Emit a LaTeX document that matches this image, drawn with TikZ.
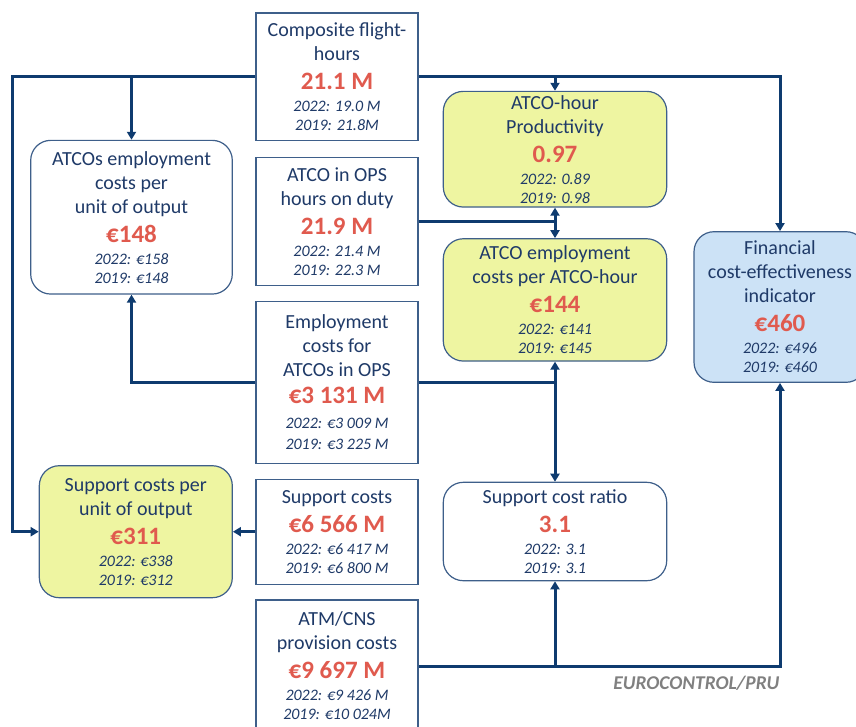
\documentclass[tikz,border=0pt]{standalone}
\usepackage{fontspec}
\setmainfont{Carlito}
\usetikzlibrary{arrows.meta}
\definecolor{pruline}{HTML}{0E3B6F}
\definecolor{prutext}{HTML}{1F3A68}
\definecolor{prured}{HTML}{E05A4E}
\definecolor{pruframe}{HTML}{3E5F8A}
\definecolor{pruyellow}{HTML}{EEF5A1}
\definecolor{prublue}{HTML}{CCE2F6}
\def\kpival#1{\\[5pt]{\fontsize{25}{28}\selectfont\bfseries\color{prured}#1}}
\def\kpiyears#1#2{\\[-2pt]{\fontsize{16}{19}\selectfont\itshape 2022: #1}\\[-5pt]{\fontsize{16}{19}\selectfont\itshape 2019: #2}}

\begin{document}
\begin{tikzpicture}[x=1pt,y=-1pt,
  box/.style={draw=pruframe,line width=1.2pt,fill=white,text=prutext,align=center,
    font=\fontsize{20}{24}\selectfont,inner sep=2pt},
  sqbox/.style={box,minimum width=162pt},
  rbox/.style={box,rounded corners=20pt},
  link/.style={draw=pruline,line width=3pt},
  arr/.style={link,-{Triangle[length=8pt,width=9pt]}}]
\useasboundingbox (0,0) rectangle (856,726);
\clip (0,0) rectangle (856,726);
\node[sqbox,minimum height=127.5pt] (comp) at (337,76.7) {Composite flight-\\hours\kpival{21.1 M}\kpiyears{19.0 M}{21.8M}};
\node[sqbox,minimum height=128pt] (duty) at (337,221.5) {ATCO in OPS\\hours on duty\kpival{21.9 M}\kpiyears{21.4 M}{22.3 M}};
\node[sqbox,minimum height=161.5pt] (empl) at (337,382.5) {Employment\\costs for\\ATCOs in OPS\\[3pt]{\fontsize{25}{28}\selectfont\bfseries\color{prured}€3 131 M}\\[1pt]{\fontsize{16}{19}\selectfont\itshape 2022: €3 009 M}\\[-3pt]{\fontsize{16}{19}\selectfont\itshape 2019: €3 225 M}};
\node[sqbox,minimum height=105pt] (supp) at (337,531.7) {Support costs\kpival{€6 566 M}\kpiyears{€6 417 M}{€6 800 M}};
\node[sqbox,minimum height=132pt] (atm) at (337,666) {ATM/CNS\\provision costs\kpival{€9 697 M}\kpiyears{€9 426 M}{€10 024M}};
\node[rbox,minimum width=201.6pt,minimum height=153.7pt] (ucost) at (131.5,217.2) {ATCOs employment\\costs per\\unit of output\kpival{€148}\kpiyears{€158}{€148}};
\node[rbox,fill=pruyellow,minimum width=193pt,minimum height=132pt] (supu) at (135.8,531.7) {Support costs per\\unit of output\kpival{€311}\kpiyears{€338}{€312}};
\node[rbox,fill=pruyellow,minimum width=223.4pt,minimum height=115.7pt] (prod) at (555,149.2) {ATCO-hour\\Productivity\kpival{0.97}\kpiyears{0.89}{0.98}};
\node[rbox,fill=pruyellow,minimum width=223.4pt,minimum height=122.3pt] (cph) at (555,299.9) {ATCO employment\\costs per ATCO-hour\kpival{€144}\kpiyears{€141}{€145}};
\node[rbox,minimum width=223.4pt,minimum height=98.4pt] (ratio) at (555,531.5) {Support cost ratio\kpival{3.1}\kpiyears{3.1}{3.1}};
\node[rbox,fill=prublue,minimum width=172pt,minimum height=150.6pt] (fin) at (780,307) {Financial\\cost-effectiveness\\indicator\kpival{€460}\kpiyears{€496}{€460}};
\node[anchor=east,text=gray,font=\fontsize{19.5}{21}\selectfont\bfseries\itshape] (credit) at (783,683) {EUROCONTROL/PRU};
\draw[arr] (comp.west) -| ([xshift=-26pt]supu.west) -- (supu.west);
\draw[arr] (ucost.north |- comp.west) -- (ucost.north);
\draw[arr] (comp.east) -| (fin.north);
\draw[arr] (prod.north |- comp.east) -- (prod.north);
\draw[link] (duty.east) -- (duty.east -| prod.south) coordinate (j1);
\draw[arr] (j1) -- (prod.south);
\draw[arr] (j1) -- (cph.north);
\draw[arr] (empl.west) -| (ucost.south);
\draw[link] (empl.east) -- (empl.east -| cph.south) coordinate (j2);
\draw[arr] (j2) -- (cph.south);
\draw[arr] (j2) -- (ratio.north);
\draw[arr] (supp.west) -- (supu.east);
\draw[arr] (atm.east) -| (fin.south);
\draw[arr] (ratio.south |- atm.east) -- (ratio.south);
\end{tikzpicture}
\end{document}
